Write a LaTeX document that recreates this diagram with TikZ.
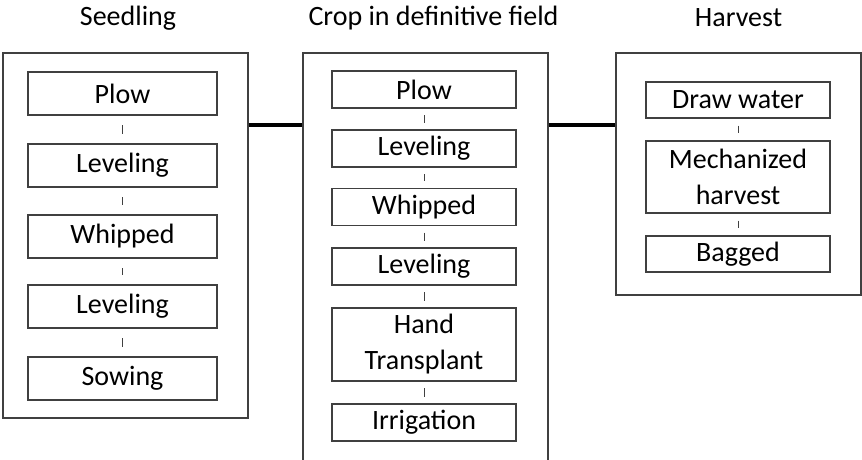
\documentclass[tikz,border=0pt]{standalone}
\usepackage{fontspec}
\setmainfont{Carlito}
\begin{document}
\begin{tikzpicture}[x=1pt,y=-1pt,
  every node/.style={font=\fontsize{28}{36}\selectfont, text=black},
  outerbox/.style={draw=black!75, line width=1.1pt, inner sep=0pt, minimum width=245pt},
  stepbox/.style={draw=black!75, line width=1.2pt, inner sep=0pt, align=center},
  tick/.style={draw=black!75, line width=1pt},
  link/.style={draw=black, line width=4pt},
  title/.style={inner sep=0pt}]
\useasboundingbox (0,0) rectangle (862,459);
% outer boxes
\node[outerbox, minimum height=365pt] (L) at (125.5,235.5) {};
\node[outerbox, minimum height=430pt] (M) at (425.5,268) {};
\node[outerbox, minimum height=242pt] (R) at (738.5,174) {};
% titles
\node[title] (tL) at (128,18) {Seedling};
\node[title] (tM) at (433.5,18) {Crop in definitive field};
\node[title] (tR) at (738.5,18) {Harvest};
% left column
\begin{scope}[every node/.append style={stepbox, minimum width=189pt, minimum height=43pt}]
\node (l1) at (122.5,93.5) {Plow};
\node (l2) at (122.5,165.5) {Leveling};
\node (l3) at (122.5,236.5) {Whipped};
\node (l4) at (122.5,306.5) {Leveling};
\node (l5) at (122.5,378.5) {Sowing};
\end{scope}
% middle column
\begin{scope}[every node/.append style={stepbox, minimum width=184pt, minimum height=37pt}]
\node (m1) at (424,89.5) {Plow};
\node (m2) at (424,148.5) {Leveling};
\node (m3) at (424,207) {Whipped};
\node (m4) at (424,266.5) {Leveling};
\node[minimum height=73pt] (m5) at (424,344.5) {Hand\\Transplant};
\node (m6) at (424,422.5) {Irrigation};
\end{scope}
% right column
\begin{scope}[every node/.append style={stepbox, minimum width=184pt, minimum height=36pt}]
\node (r1) at (738,100) {Draw water};
\node[minimum height=72pt] (r2) at (738,177) {Mechanized\\harvest};
\node (r3) at (738,254) {Bagged};
\end{scope}
% ticks
\foreach \a/\b in {l1/l2,l2/l3,l3/l4,l4/l5}
  \draw[tick, shorten <=9.5pt, shorten >=9.5pt] (\a.south) -- (\b.north);
\foreach \a/\b in {m1/m2,m2/m3,m3/m4,m4/m5,m5/m6}
  \draw[tick, shorten <=6.5pt, shorten >=6.5pt] (\a.south) -- (\b.north);
\foreach \a/\b in {r1/r2,r2/r3}
  \draw[tick, shorten <=7pt, shorten >=7pt] (\a.south) -- (\b.north);
% thick links
\coordinate (ly) at (0,125);
\draw[link] (L.east |- ly) -- (M.west |- ly);
\draw[link] (M.east |- ly) -- (R.west |- ly);
\end{tikzpicture}
\end{document}
